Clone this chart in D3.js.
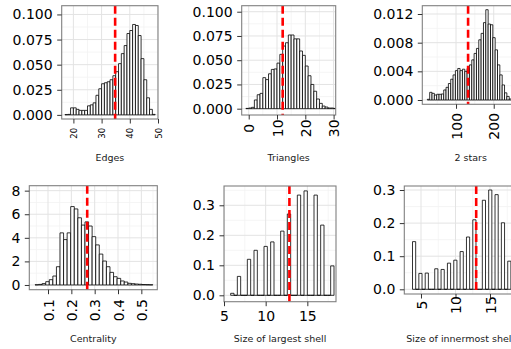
<!DOCTYPE html>
<html><head><meta charset="utf-8">
<script src="https://cdn.jsdelivr.net/npm/d3@7"></script>
<style>body{margin:0;background:#fff;}svg{display:block;}</style>
</head><body>
<script>
// ---------------- DATA ----------------
const edgesBinStart = 17, edgesBinWidth = 1;
const edgesValues = [0.0003,0.0005,0.007,0.007,0.0055,0.0045,0.0045,0.0045,0.009,0.010,0.012,0.0195,0.026,0.031,0.032,0.033,0.035,0.039,0.043,0.051,0.061,0.069,0.081,0.084,0.090,0.089,0.079,0.056,0.035,0.017,0.0055,0.0005];
const edgesObserved = 34.8;
const edgesXTicks = [20,30,40,50], edgesXLabels = ["20","30","40","50"];
const edgesYTicks = [0,0.025,0.05,0.075,0.1], edgesYLabels = ["0.000","0.025","0.050","0.075","0.100"];

const triBinStart = -1, triBinWidth = 1;
const triValues = [0.0003,0.0007,0.0014,0.009,0.0144,0.0158,0.032,0.030,0.036,0.0405,0.041,0.047,0.056,0.0646,0.068,0.076,0.076,0.072,0.072,0.0595,0.055,0.044,0.034,0.025,0.018,0.010,0.0055,0.0027,0.0017,0.0007,0.0007,0.0003];
const triObserved = 12;
const triXTicks = [0,10,20,30], triXLabels = ["0","10","20","30"];
const triYTicks = [0,0.025,0.05,0.075,0.1], triYLabels = ["0.000","0.025","0.050","0.075","0.100"];

const starsBinStart = 24, starsBinWidth = 6.2;
const starsValues = [0.0001,0.00107,0.00093,0.0007,0.0008,0.0008,0.00084,0.0014,0.00177,0.0023,0.0029,0.0035,0.0041,0.0044,0.0041,0.0043,0.004,0.0044,0.0049,0.0056,0.0065,0.0072,0.0084,0.0093,0.0108,0.0126,0.0106,0.0105,0.0087,0.007,0.0049,0.0035,0.0021,0.001,0.0005,0.00014];
const starsObserved = 132;
const starsXTicks = [100,200], starsXLabels = ["100","200"];
const starsYTicks = [0,0.004,0.008,0.012], starsYLabels = ["0.000","0.004","0.008","0.012"];

const centBinStart = 0.0443, centBinWidth = 0.0153;
const centValues = [0.02,0.05,0.12,0.28,0.45,0.76,1.55,4.42,3.85,4.42,6.65,6.45,5.7,5.08,5.35,5.0,4.1,3.4,2.62,2.03,1.55,1.07,0.7,0.56,0.34,0.25,0.14,0.11,0.08,0.06,0.04,0.03,0.02];
const centObserved = 0.268;
const centXTicks = [0.1,0.2,0.3,0.4,0.5], centXLabels = ["0.1","0.2","0.3","0.4","0.5"];
const centYTicks = [0,2,4,6,8], centYLabels = ["0","2","4","6","8"];

const largestBinStart = 5.8, largestBinWidth = 0.4;
const largestValues = [0.0067,0,0.063,0,0,0.12,0,0.15,0,0,0.163,0,0.178,0,0,0.214,0,0.271,0,0,0.334,0,0.348,0,0,0.334,0,0.234,0,0,0.098];
const largestObserved = 12.85;
const largestXTicks = [5,10,15], largestXLabels = ["5","10","15"];
const largestYTicks = [0,0.1,0.2,0.3], largestYLabels = ["0.0","0.1","0.2","0.3"];

const innerBinStart = 3.77, innerBinWidth = 0.46;
const innerValues = [0.144,0,0.048,0,0.049,0,0,0.062,0,0.06,0,0.079,0,0.088,0,0.114,0,0.158,0,0.21,0,0,0.269,0,0.30,0,0.286,0,0.201,0,0.085];
const innerObserved = 13.0;
const innerXTicks = [5,10,15], innerXLabels = ["5","10","15"];
const innerYTicks = [0,0.1,0.2,0.3], innerYLabels = ["0.0","0.1","0.2","0.3"];

const titles = ["Edges","Triangles","2 stars","Centrality","Size of largest shell","Size of innermost shell"];

// ---------------- LAYOUT ----------------
const W = 511, H = 349;
const FONT = "'DejaVu Sans', Verdana, sans-serif";
const svg = d3.select("body").append("svg").attr("width", W).attr("height", H);

const panels = [
  {title:titles[0], binStart:edgesBinStart, binWidth:edgesBinWidth, values:edgesValues, obs:edgesObserved, xTicks:edgesXTicks, xLabels:edgesXLabels, yTicks:edgesYTicks, yLabels:edgesYLabels,
   left:61.7, right:158, top:5.7, bottom:119, xDomain:[15.85,50.0], yDomain:[-0.0041,0.1087], xLabelY:133.3, rotate:true, xFont:8.5, titleY:161},
  {title:titles[1], binStart:triBinStart, binWidth:triBinWidth, values:triValues, obs:triObserved, xTicks:triXTicks, xLabels:triXLabels, yTicks:triYTicks, yLabels:triYLabels,
   left:241.7, right:335.7, top:5.7, bottom:115, xDomain:[-2.48,30.74], yDomain:[-0.0065,0.1062], xLabelY:128.3, rotate:true, xFont:14, titleY:161},
  {title:titles[2], binStart:starsBinStart, binWidth:starsBinWidth, values:starsValues, obs:starsObserved, xTicks:starsXTicks, xLabels:starsXLabels, yTicks:starsYTicks, yLabels:starsYLabels,
   left:422.3, right:519, top:5.7, bottom:104.3, xDomain:[10.6,267], yDomain:[-0.0006,0.01316], xLabelY:126.3, rotate:true, xFont:14, titleY:161},
  {title:titles[3], binStart:centBinStart, binWidth:centBinWidth, values:centValues, obs:centObserved, xTicks:centXTicks, xLabels:centXLabels, yTicks:centYTicks, yLabels:centYLabels,
   left:29.3, right:157.3, top:185.7, bottom:289.7, xDomain:[0.0198,0.5684], yDomain:[-0.4,8.42], xLabelY:310.2, rotate:true, xFont:14, titleY:342},
  {title:titles[4], binStart:largestBinStart, binWidth:largestBinWidth, values:largestValues, obs:largestObserved, xTicks:largestXTicks, xLabels:largestXLabels, yTicks:largestYTicks, yLabels:largestYLabels,
   left:224, right:336, top:186, bottom:301.7, xDomain:[5.0,18.44], yDomain:[-0.0213,0.3643], xLabelY:316.2, rotate:false, xFont:14, titleY:342},
  {title:titles[5], binStart:innerBinStart, binWidth:innerBinWidth, values:innerValues, obs:innerObserved, xTicks:innerXTicks, xLabels:innerXLabels, yTicks:innerYTicks, yLabels:innerYLabels,
   left:404.3, right:516, top:186, bottom:294, xDomain:[2.58,18.77], yDomain:[-0.0142,0.3121], xLabelY:305, rotate:true, xFont:14, titleY:342}
];

function minorTicks(ticks, dom) {
  const step = ticks.length > 1 ? ticks[1]-ticks[0] : 1;
  const out = [];
  for (let t = ticks[0]-step/2; t <= ticks[ticks.length-1]+step/2+1e-9; t += step) {
    if (t >= Math.min(...dom) && t <= Math.max(...dom)) out.push(t);
  }
  return out;
}

panels.forEach((p, pi) => {
  const x = d3.scaleLinear().domain(p.xDomain).range([p.left, p.right]);
  const y = d3.scaleLinear().domain(p.yDomain).range([p.bottom, p.top]);
  const g = svg.append("g");
  const clipId = "clip" + pi;
  g.append("clipPath").attr("id", clipId).append("rect")
    .attr("x", p.left).attr("y", p.top).attr("width", p.right-p.left).attr("height", p.bottom-p.top);
  const inner = g.append("g").attr("clip-path", `url(#${clipId})`);
  inner.append("rect").attr("x", p.left).attr("y", p.top).attr("width", p.right-p.left).attr("height", p.bottom-p.top).attr("fill", "#fff");

  // grid
  const xMinor = minorTicks(p.xTicks, p.xDomain), yMinor = minorTicks(p.yTicks, p.yDomain);
  inner.selectAll(".gxm").data(xMinor).join("line").attr("x1", d=>x(d)).attr("x2", d=>x(d)).attr("y1", p.top).attr("y2", p.bottom).attr("stroke", "#F3F3F3").attr("stroke-width", 0.8);
  inner.selectAll(".gym").data(yMinor).join("line").attr("y1", d=>y(d)).attr("y2", d=>y(d)).attr("x1", p.left).attr("x2", p.right).attr("stroke", "#F3F3F3").attr("stroke-width", 0.8);
  inner.selectAll(".gx").data(p.xTicks).join("line").attr("x1", d=>x(d)).attr("x2", d=>x(d)).attr("y1", p.top).attr("y2", p.bottom).attr("stroke", "#E3E3E3").attr("stroke-width", 1);
  inner.selectAll(".gy").data(p.yTicks).join("line").attr("y1", d=>y(d)).attr("y2", d=>y(d)).attr("x1", p.left).attr("x2", p.right).attr("stroke", "#E3E3E3").attr("stroke-width", 1);

  // bars
  inner.selectAll(".bar").data(p.values).join("path")
    .attr("d", (v, i) => {
      const x0 = x(p.binStart + i*p.binWidth), x1 = x(p.binStart + (i+1)*p.binWidth);
      return `M${x0},${y(0)}V${y(v)}H${x1}V${y(0)}Z`;
    })
    .attr("fill", "#fff").attr("stroke", "#000").attr("stroke-width", 0.8);

  // observed value line
  inner.append("line").attr("x1", x(p.obs)).attr("x2", x(p.obs)).attr("y1", p.top).attr("y2", p.bottom)
    .attr("stroke", "#FF0000").attr("stroke-width", 2.6).attr("stroke-dasharray", "8,4");

  // border
  g.append("rect").attr("x", p.left).attr("y", p.top).attr("width", p.right-p.left).attr("height", p.bottom-p.top)
    .attr("fill", "none").attr("stroke", "#808080").attr("stroke-width", 1.1);

  // y axis
  const ya = g.append("g").attr("transform", `translate(${p.left},0)`)
    .call(d3.axisLeft(y).tickValues(p.yTicks).tickFormat((d,i)=>p.yLabels[i]).tickSize(4.5).tickPadding(4.5));
  ya.select(".domain").remove();
  ya.selectAll("line").attr("stroke", "#333").attr("stroke-width", 1);
  ya.selectAll("text").attr("font-family", FONT).attr("font-size", 14).attr("fill", "#000");

  // x axis
  const xa = g.append("g").attr("transform", `translate(0,${p.bottom})`)
    .call(d3.axisBottom(x).tickValues(p.xTicks).tickFormat((d,i)=>p.xLabels[i]).tickSize(4.5));
  xa.select(".domain").remove();
  xa.selectAll("line").attr("stroke", "#333").attr("stroke-width", 1);
  const xt = xa.selectAll("text").attr("font-family", FONT).attr("font-size", p.xFont).attr("fill", "#000");
  if (p.rotate) {
    xt.attr("x", 0).attr("y", 0).attr("dy", "0.36em").attr("text-anchor", "middle")
      .attr("transform", `translate(0,${p.xLabelY - p.bottom}) rotate(-90)`);
  } else {
    xt.attr("x", 0).attr("y", p.xLabelY - p.bottom).attr("dy", "0.36em").attr("text-anchor", "middle");
  }

  // title
  g.append("text").attr("x", (p.left+p.right)/2).attr("y", p.titleY)
    .attr("text-anchor", "middle").attr("font-family", FONT).attr("font-size", 9.5).attr("fill", "#1a1a1a")
    .text(p.title);
});
</script>
</body></html>
